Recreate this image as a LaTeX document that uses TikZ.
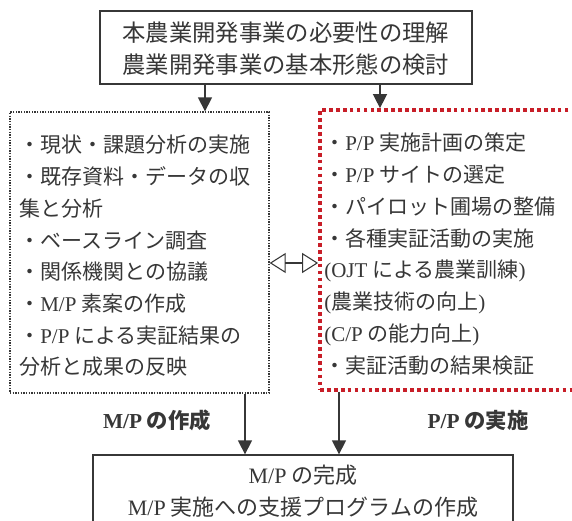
\documentclass[tikz,border=0pt]{standalone}
\usepackage{fontspec}
\setmainfont{Noto Sans CJK JP}
\newfontfamily\latnfont{Liberation Serif}
\newcommand\latn[1]{{\latnfont #1}}
\usetikzlibrary{arrows.meta}
\definecolor{ink}{RGB}{55,55,55}
\definecolor{dotred}{RGB}{200,30,40}
\begin{document}
\begin{tikzpicture}[x=0.75pt,y=-0.75pt,
  solidbox/.style={draw=ink, line width=1pt, inner sep=0pt},
  dotbox/.style={draw=ink, line width=1pt, dash pattern=on 1pt off 1pt, inner sep=0pt},
  redbox/.style={draw=dotred, line width=2.8pt, dash pattern=on 2.8pt off 2.4pt, inner sep=0pt},
  arr/.style={draw=ink, line width=1.1pt, -{Triangle[length=10.5pt,width=10.5pt]}},
  darr/.style={draw=ink, line width=0.8pt, {Triangle[open,length=12pt,width=15pt]}-{Triangle[open,length=12pt,width=15pt]}},
  midtext/.style={text=ink, align=left, inner sep=0pt, font=\fontsize{15.75}{23.8}\selectfont},
  toptext/.style={text=ink, align=center, inner sep=0pt, font=\fontsize{17.5}{24}\selectfont},
  bottext/.style={text=ink, align=center, inner sep=0pt, font=\fontsize{16.5}{24}\selectfont},
  lbl/.style={text=ink, inner sep=0pt, font=\bfseries\fontsize{16}{18}\selectfont}
]
\path[fill=white, use as bounding box] (0,0) rectangle (572,521);

% boxes
\node[solidbox, minimum width=279pt, minimum height=54.75pt] (tbox) at (286,47.5) {};
\node[dotbox, minimum width=194.25pt, minimum height=210.75pt] (lbox) at (139.5,252.5) {};
\node[redbox, minimum width=198.75pt, minimum height=210pt] (rbox) at (452.5,250) {};
\node[solidbox, minimum width=315pt, minimum height=60pt] (bbox) at (303,495) {};

% texts
\node[toptext] (ttext) at (286,49) {本農業開発事業の必要性の理解\\農業開発事業の基本形態の検討};
\node[midtext, anchor=west] (ltext) at (19,256) {・現状・課題分析の実施\\・既存資料・データの収\\集と分析\\・ベースライン調査\\・関係機関との協議\\・\latn{M/P} 素案の作成\\・\latn{P/P} による実証結果の\\分析と成果の反映};
\node[midtext, anchor=west] (rtext) at (324,254) {・\latn{P/P} 実施計画の策定\\・\latn{P/P} サイトの選定\\・パイロット圃場の整備\\・各種実証活動の実施\\\latn{(OJT} による農業訓練\latn{)}\\\latn{(}農業技術の向上\latn{)}\\\latn{(C/P} の能力向上\latn{)}\\・実証活動の結果検証};
\node[bottext] (btext) at (303,491) {\latn{M/P} の完成\\\latn{M/P} 実施への支援プログラムの作成};

% labels
\node[lbl] (lab1) at (157,420) {\latn{M/P} の作成};
\node[lbl] (lab2) at (478,420) {\latn{P/P} の実施};

% connectors
\coordinate (a1) at (205,0);
\coordinate (a2) at (380,0);
\coordinate (a3) at (245,0);
\coordinate (a4) at (339,0);
\coordinate (c1) at (0,263);
\draw[arr] (tbox.south -| a1) -- (lbox.north -| a1);
\draw[arr] (tbox.south -| a2) -- (rbox.north -| a2);
\draw[arr] (lbox.south -| a3) -- (bbox.north -| a3);
\draw[arr] (rbox.south -| a4) -- (bbox.north -| a4);
\draw[darr] (lbox.east |- c1) -- (rbox.west |- c1);
\end{tikzpicture}
\end{document}
